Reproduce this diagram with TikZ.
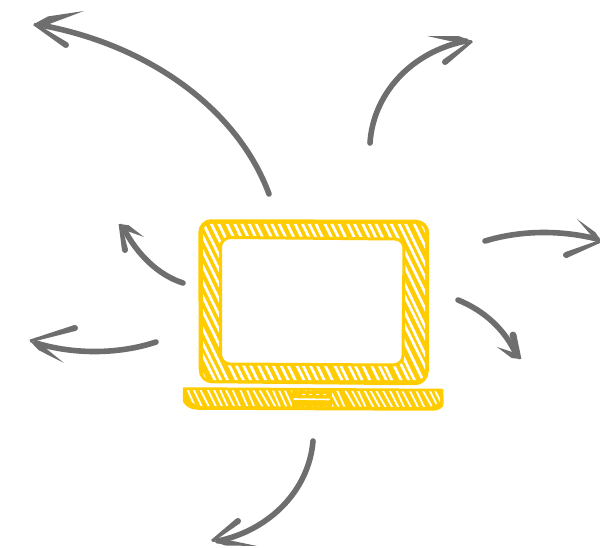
\documentclass[tikz,border=0pt]{standalone}
\usetikzlibrary{calc}
\definecolor{lapyellow}{HTML}{FFCC00}
\definecolor{arrowgrey}{HTML}{6E6E6E}
\tikzset{
  shaft/.style={draw=arrowgrey,line width=5.6pt,line cap=round},
  framefill/.style={fill=lapyellow,draw=lapyellow,line width=2.5pt,line join=round},
  stripe/.style={draw=white,line width=2.7pt},
}
% tapered barb with a round far end
\newcommand{\barbline}[3]{%
  \coordinate (bt) at #1; \coordinate (be) at #2;
  \fill[arrowgrey] ($(be)!#3pt!90:(bt)$) -- ($(bt)!1.4pt!-90:(be)$) -- ($(bt)!1.4pt!90:(be)$) -- ($(be)!#3pt!-90:(bt)$) -- cycle;
  \fill[arrowgrey] (be) circle[radius=#3pt];
}
% barb fine at both ends, widest near the tip
\newcommand{\barbtaper}[3]{%
  \coordinate (bt) at #1; \coordinate (be) at #2;
  \coordinate (bm) at ($(bt)!0.3!(be)$);
  \fill[arrowgrey] (be) -- ($(bm)!#3pt!90:(be)$) -- (bt) -- ($(bm)!#3pt!-90:(be)$) -- cycle;
}
\begin{document}
\begin{tikzpicture}[x=1pt,y=-1pt]
\useasboundingbox (0,0) rectangle (600,548);
\pgfmathsetseed{7}
% screen frame
\fill[framefill] (211,220.5) -- (416,221) to[out=0,in=90] (428,233) -- (427.5,371) to[out=-90,in=0] (415,384)
  -- (212,382) to[out=180,in=-90] (200,370) -- (199.5,233) to[out=90,in=180] cycle;
\begin{scope}
  \clip[rounded corners=8pt] (203,224) rectangle (425,380);
  \foreach \x in {110,117.5,...,440}{
    \pgfmathsetmacro{\a}{\x+1.2*rand}
    \pgfmathsetmacro{\b}{\a+85+1.5*rand}
    \draw[stripe] (\a,215) -- (\b,390);
  }
\end{scope}
% screen
\fill[white,draw=lapyellow,line width=3pt,line join=round] (231,237.5) -- (395,239) to[out=0,in=90] (404,248) -- (403,356)
  to[out=-90,in=0] (393,365) -- (230,364) to[out=180,in=-90] (220.5,354) -- (220.5,247) to[out=90,in=180] cycle;
% base
\fill[framefill] (184,388.5) -- (442,390) -- (442.5,403) to[out=-90,in=0] (432,409.5) -- (198,408.5) to[out=180,in=-60] (184,401) -- cycle;
\begin{scope}
  \clip (186,390) -- (441,391.5) -- (440,402) -- (430,407) -- (198,406) -- (187,399) -- cycle;
  \foreach \x in {175,181.5,...,450}{
    \pgfmathsetmacro{\a}{\x+1.2*rand}
    \pgfmathsetmacro{\b}{\a+9+1.5*rand}
    \draw[draw=white,line width=1.8pt] (\a,390) -- (\b,408);
  }
  \fill[lapyellow] (292,391) rectangle (332,407);
\end{scope}
\draw[white,line width=1.6pt,line cap=round] (294,399) -- (329,399.5);
\foreach \x in {302,309,316,323}{\draw[white,line width=1pt] (\x,394) -- (\x+3,394);}
% arrows
\draw[shaft] (269,194) .. controls (238,110) and (150,45) .. (40,25);
\barbtaper{(34,24)}{(84,11)}{3.8}
\barbline{(34,24)}{(66,45)}{3}
\draw[shaft] (370,143) .. controls (373,95) and (410,52) .. (466,41);
\barbtaper{(472,41)}{(427,36)}{3.4}
\barbline{(472,41)}{(445,62)}{3}
\draw[shaft] (485,241) .. controls (525,229) and (565,231) .. (597,239);
\barbtaper{(601,241)}{(577,219)}{2.6}
\barbline{(601,241)}{(566,255)}{3}
\draw[shaft] (458,300) .. controls (485,311) and (505,330) .. (516,354);
\barbtaper{(520,359)}{(497,347)}{3}
\barbline{(520,359)}{(513,335)}{3.4}
\draw[shaft] (313,441) .. controls (309,490) and (270,530) .. (218,541);
\barbtaper{(212,541)}{(257,546)}{3}
\barbline{(212,541)}{(238,521)}{3}
\draw[shaft] (183,283) .. controls (158,275) and (137,254) .. (124,229);
\barbtaper{(120,224)}{(144,237)}{3}
\barbline{(120,224)}{(125,250)}{3}
\draw[shaft] (156,342) .. controls (120,354) and (75,355) .. (36,343);
\barbtaper{(30,341)}{(64,363)}{3}
\barbline{(30,341)}{(75,328)}{3}
\end{tikzpicture}
\end{document}
